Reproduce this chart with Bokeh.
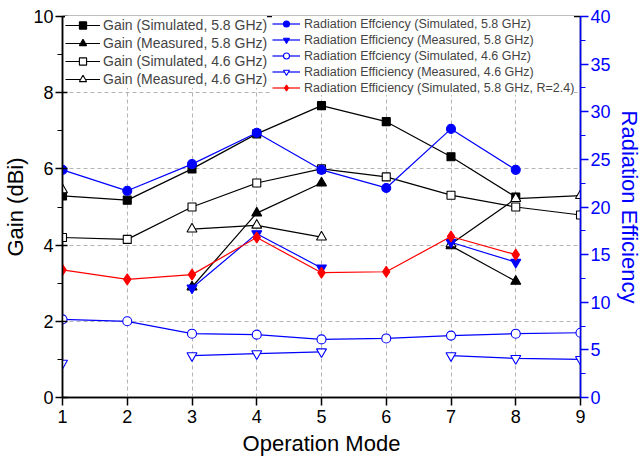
from bokeh.plotting import figure
from bokeh.models import Range1d, LinearAxis, FixedTicker, Legend, LegendItem
from bokeh.embed import file_html
from bokeh.resources import INLINE

nan = float("nan")

# Operation modes (x axis)
modes = [1, 2, 3, 4, 5, 6, 7, 8, 9]

# Gain (dBi), left axis; NaN marks modes without a value
gain_sim_58 = [5.29, 5.18, 6.0, 6.92, 7.66, 7.24, 6.32, 5.26, nan]
gain_meas_58 = [nan, nan, 2.9, 4.84, 5.63, nan, 3.98, 3.05, nan]
gain_sim_46 = [4.2, 4.15, 5.0, 5.63, 6.0, 5.79, 5.31, 5.0, 4.79]
gain_meas_46 = [5.45, nan, 4.42, 4.52, 4.21, nan, 4.03, 5.22, 5.3]

# Radiation efficiency, right axis
eff_sim_58 = [23.9, 21.7, 24.5, 27.8, 23.9, 22.0, 28.2, 23.9, nan]
eff_meas_58 = [nan, nan, 11.5, 17.2, 13.6, nan, 16.3, 14.2, nan]
eff_sim_46 = [8.2, 8.0, 6.7, 6.6, 6.1, 6.2, 6.5, 6.7, 6.8]
eff_meas_46 = [3.6, nan, 4.4, 4.6, 4.8, nan, 4.4, 4.1, 4.0]
eff_sim_58_r24 = [13.4, 12.4, 12.9, 16.8, 13.1, 13.2, 16.9, 15.0, nan]

gain_labels = [
    "Gain (Simulated, 5.8 GHz)",
    "Gain (Measured, 5.8 GHz)",
    "Gain (Simulated, 4.6 GHz)",
    "Gain (Measured, 4.6 GHz)",
]
eff_labels = [
    "Radiation Effciency (Simulated, 5.8 GHz)",
    "Radiation Efficiency (Measured, 5.8 GHz)",
    "Radiation Effciency (Simulated, 4.6 GHz)",
    "Radiation Efficiency (Measured, 4.6 GHz)",
    "Radiation Efficiency (Simulated, 5.8 GHz, R=2.4)",
]

FONT = "Liberation Sans"
BLACK = "#000000"
BLUE = "#0000FF"
RED = "#FF0000"

p = figure(
    width=644, height=460,
    x_range=Range1d(1, 9), y_range=Range1d(0, 10),
    output_backend="svg", toolbar_location=None,
    min_border_left=62, min_border_right=64,
    min_border_top=16, min_border_bottom=63,
    background_fill_color="white", border_fill_color="white",
)
p.extra_y_ranges = {"eff": Range1d(0, 40)}
p.outline_line_color = BLACK
p.outline_line_width = 1.5

# Axes
xa = p.xaxis[0]
xa.ticker = FixedTicker(ticks=modes)
xa.axis_label = "Operation Mode"

ya = p.yaxis[0]
ya.ticker = FixedTicker(ticks=[0, 2, 4, 6, 8, 10], minor_ticks=[1, 3, 5, 7, 9])
ya.axis_label = "Gain (dBi)"

ra = LinearAxis(
    y_range_name="eff",
    ticker=FixedTicker(ticks=[0, 5, 10, 15, 20, 25, 30, 35, 40],
                       minor_ticks=[2.5 + 5 * k for k in range(8)]),
    axis_label="Radiation Efficiency",
)
p.add_layout(ra, "right")

for ax, col in ((xa, BLACK), (ya, BLACK), (ra, BLUE)):
    ax.axis_line_color = col
    ax.axis_line_width = 1.5
    ax.major_tick_line_color = col
    ax.minor_tick_line_color = col
    ax.major_tick_line_width = 1.5
    ax.minor_tick_line_width = 1.2
    ax.major_label_text_color = col
    ax.axis_label_text_color = col
    ax.major_label_text_font = FONT
    ax.axis_label_text_font = FONT
    ax.major_label_text_font_size = "18px"
    ax.axis_label_text_font_size = "22px"
    ax.axis_label_text_font_style = "normal"

xa.major_tick_out = 8
xa.major_tick_in = 0
xa.minor_tick_line_color = None
xa.major_label_standoff = 4
xa.axis_label_standoff = 5

ya.major_tick_out = 7
ya.major_tick_in = 5
ya.minor_tick_out = 5
ya.minor_tick_in = 0
ya.major_label_standoff = 2
ya.axis_label_standoff = 2

ra.major_tick_out = 8
ra.major_tick_in = 0
ra.minor_tick_out = 5
ra.minor_tick_in = 0
ra.major_label_standoff = 2
ra.axis_label_standoff = 3

# Dashed grid
p.xgrid.ticker = FixedTicker(ticks=modes)
p.ygrid.ticker = FixedTicker(ticks=[0, 2, 4, 6, 8, 10])
for g in (p.xgrid[0], p.ygrid[0]):
    g.grid_line_color = "#b4b4b4"
    g.grid_line_dash = "4 3"
    g.grid_line_width = 1


def series(ys, color, marker, filled, range_name="default", size=9):
    kw = {} if range_name == "default" else {"y_range_name": range_name}
    ln = p.line(modes, ys, line_color=color, line_width=1.2, **kw)
    sc = p.scatter(
        modes, ys, marker=marker, size=size,
        line_color=color, line_width=1.1,
        fill_color=color if filled else "white", **kw,
    )
    return [ln, sc]


r_gain = [
    series(gain_sim_58, BLACK, "square", True, size=8),
    series(gain_meas_58, BLACK, "triangle", True, size=10),
    series(gain_sim_46, BLACK, "square", False, size=8),
    series(gain_meas_46, BLACK, "triangle", False, size=10),
]
r_eff = [
    series(eff_sim_58, BLUE, "circle", True, "eff", size=9),
    series(eff_meas_58, BLUE, "inverted_triangle", True, "eff", size=10),
    series(eff_sim_46, BLUE, "circle", False, "eff", size=9),
    series(eff_meas_46, BLUE, "inverted_triangle", False, "eff", size=10),
    series(eff_sim_58_r24, RED, "diamond", True, "eff", size=11),
]

FRAME_H = 460 - 16 - 63

leg1 = Legend(
    items=[LegendItem(label=t, renderers=r) for t, r in zip(gain_labels, r_gain)],
    location=(3, FRAME_H - 4 * 18),
    padding=0, spacing=0, margin=0,
    glyph_width=35, glyph_height=18, label_height=18, label_standoff=3,
    label_text_font=FONT, label_text_font_size="14px",
    background_fill_color="white", background_fill_alpha=1.0,
    border_line_color=None,
)
leg2 = Legend(
    items=[LegendItem(label=t, renderers=r) for t, r in zip(eff_labels, r_eff)],
    location=(210, FRAME_H - (5 * 15 + 4 * 1)),
    padding=0, spacing=1, margin=0,
    glyph_width=28, glyph_height=15, label_height=15, label_standoff=4,
    label_text_font=FONT, label_text_font_size="12.5px",
    background_fill_color="white", background_fill_alpha=1.0,
    border_line_color=None,
)
p.add_layout(leg1)
p.add_layout(leg2)

open("out.html", "w").write(file_html(p, INLINE))
